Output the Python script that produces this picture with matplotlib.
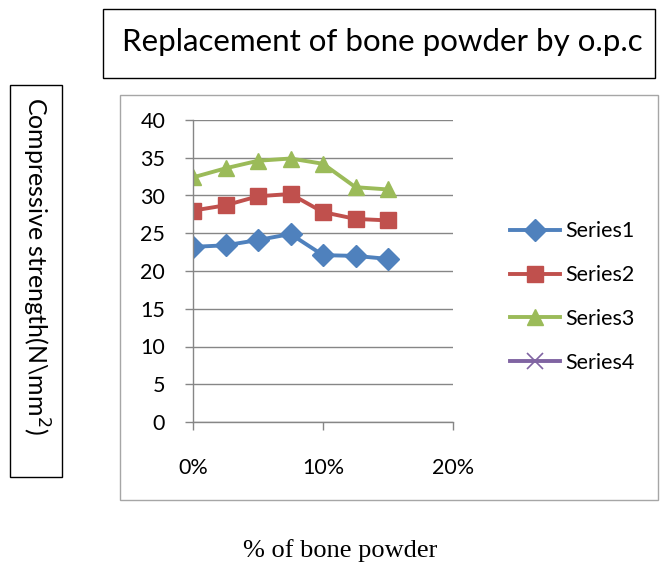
import matplotlib
matplotlib.use("Agg")
import matplotlib.pyplot as plt
from matplotlib.patches import Rectangle

x_pct = [0, 2.5, 5, 7.5, 10, 12.5, 15]
series1 = [23.2, 23.4, 24.1, 24.9, 22.1, 22.0, 21.6]
series2 = [28.0, 28.7, 29.9, 30.2, 27.8, 26.9, 26.7]
series3 = [32.4, 33.6, 34.6, 34.9, 34.2, 31.1, 30.8]
series4 = []
names = ["Series1", "Series2", "Series3", "Series4"]
colors = ["#4F81BD", "#C0504D", "#9BBB59", "#8064A2"]
markers = ["D", "s", "^", "x"]
yticks = [0, 5, 10, 15, 20, 25, 30, 35, 40]
xticks = [0, 10, 20]
xticklabels = ["0%", "10%", "20%"]

W, H = 662, 564
fig = plt.figure(figsize=(W / 100, H / 100), dpi=100)
font = "Lato"

def fx(px):
    return px / W

def fy(py):
    return 1 - py / H

# boxes
fig.patches.append(Rectangle((fx(103), fy(78)), fx(655) - fx(103), fy(9) - fy(78),
                             transform=fig.transFigure, fill=False, edgecolor="#000000", lw=1.0))
fig.patches.append(Rectangle((fx(120), fy(500)), fx(658) - fx(120), fy(95) - fy(500),
                             transform=fig.transFigure, fill=False, edgecolor="#A6A6A6", lw=1.0))
fig.patches.append(Rectangle((fx(10), fy(477)), fx(62) - fx(10), fy(85) - fy(477),
                             transform=fig.transFigure, fill=False, edgecolor="#000000", lw=1.0))

fig.text(fx(122), fy(42), "Replacement of bone powder by o.p.c", fontsize=22.5,
         family=font, ha="left", va="center", color="#000000")
fig.text(fx(36), fy(266), "Compressive strength(N\\mm$^{2}$)", fontsize=18,
         family=font, rotation=-90, ha="center", va="center", color="#000000")
fig.text(fx(340), fy(551), "% of bone powder", fontsize=19,
         family="Liberation Serif", ha="center", va="center", color="#000000")

ax = fig.add_axes([fx(193), fy(422), fx(453) - fx(193), fy(120) - fy(422)])
data = [series1, series2, series3, series4]
msizes = [11, 12, 12, 12]
for d, n, c, m, ms in zip(data, names, colors, markers, msizes):
    xs = x_pct[:len(d)]
    ax.plot(xs, d, color=c, marker=m, markersize=ms, lw=2.8, label=n,
            markeredgecolor=c, markeredgewidth=1.0 if m != "x" else 1.2)

ax.set_xlim(0, 20)
ax.set_ylim(0, 40)
ax.set_yticks(yticks)
ax.set_xticks(xticks)
ax.set_xticklabels(xticklabels)
ax.grid(axis="y", color="#868686", lw=1.0)
ax.set_axisbelow(True)
for s in ["top", "right"]:
    ax.spines[s].set_visible(False)
for s in ["left", "bottom"]:
    ax.spines[s].set_color("#868686")
    ax.spines[s].set_linewidth(1.0)
ax.tick_params(axis="both", direction="out", length=6, color="#868686", width=1.0,
               labelsize=15.5)
ax.tick_params(axis="y", pad=14)
ax.tick_params(axis="x", pad=20)
for lab in ax.get_xticklabels() + ax.get_yticklabels():
    lab.set_family(font)
    lab.set_color("#000000")

leg = ax.legend(loc="center left", bbox_to_anchor=(fx(510), fy(297)),
                bbox_transform=fig.transFigure, frameon=False,
                prop={"family": font, "size": 15.5}, labelspacing=1.1,
                handlelength=2.3, handletextpad=0.25, borderpad=0, borderaxespad=0)

fig.savefig("out.png", dpi=100)
